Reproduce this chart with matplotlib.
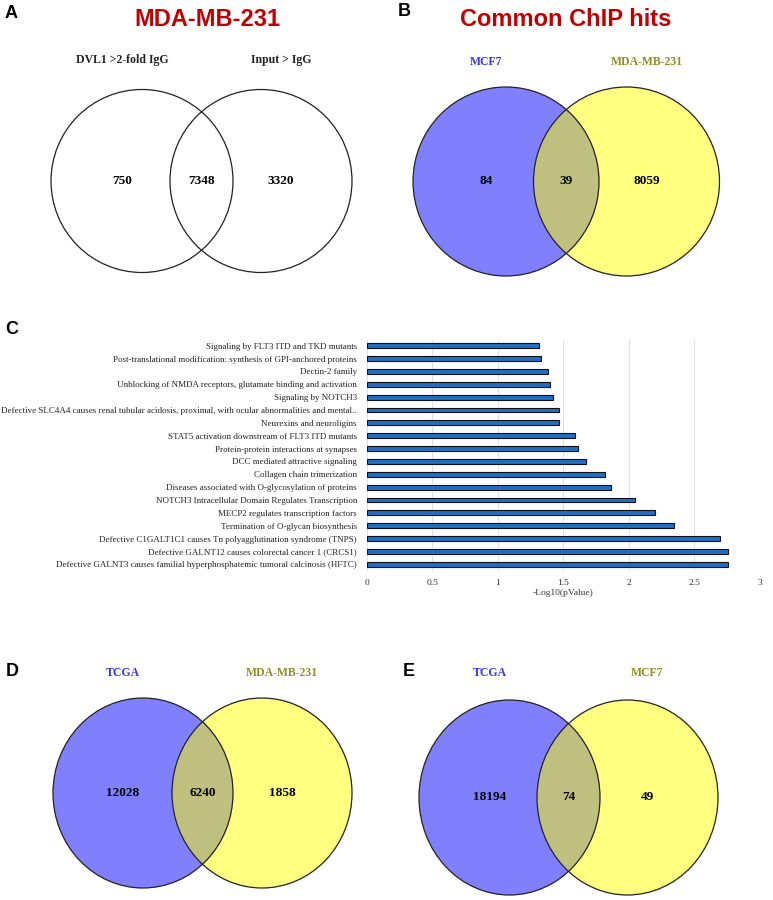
import matplotlib
matplotlib.use("Agg")
import matplotlib.pyplot as plt
from matplotlib.patches import Ellipse

# panel C data, listed top to bottom as in the figure
pathways = [
    "Signaling by FLT3 ITD and TKD mutants",
    "Post-translational modification: synthesis of GPI-anchored proteins",
    "Dectin-2 family",
    "Unblocking of NMDA receptors, glutamate binding and activation",
    "Signaling by NOTCH3",
    "Defective SLC4A4 causes renal tubular acidosis, proximal, with ocular abnormalities and mental..",
    "Neurexins and neuroligins",
    "STAT5 activation downstream of FLT3 ITD mutants",
    "Protein-protein interactions at synapses",
    "DCC mediated attractive signaling",
    "Collagen chain trimerization",
    "Diseases associated with O-glycosylation of proteins",
    "NOTCH3 Intracellular Domain Regulates Transcription",
    "MECP2 regulates transcription factors",
    "Termination of O-glycan biosynthesis",
    "Defective C1GALT1C1 causes Tn polyagglutination syndrome (TNPS)",
    "Defective GALNT12 causes colorectal cancer 1 (CRCS1)",
    "Defective GALNT3 causes familial hyperphosphatemic tumoral calcinosis (HFTC)",
]
neg_log_p = [1.315, 1.327, 1.383, 1.396, 1.419, 1.467, 1.470, 1.592, 1.612,
             1.673, 1.815, 1.861, 2.047, 2.202, 2.344, 2.693, 2.756, 2.756]
x_ticks = [0, 0.5, 1, 1.5, 2, 2.5, 3]

# venn counts: (left only, shared, right only)
venn_a = [750, 7348, 3320]
venn_b = [84, 39, 8059]
venn_d = [12028, 6240, 1858]
venn_e = [18194, 74, 49]
names_a = ["DVL1 >2-fold IgG", "Input > IgG"]
names_b = ["MCF7", "MDA-MB-231"]
names_d = ["TCGA", "MDA-MB-231"]
names_e = ["TCGA", "MCF7"]

W, H = 773, 900
fig = plt.figure(figsize=(W / 100, H / 100), dpi=100)
canvas = fig.add_axes([0, 0, 1, 1])
canvas.set_xlim(0, W)
canvas.set_ylim(H, 0)
canvas.axis("off")

SERIF = "Liberation Serif"
SANS = "Liberation Sans"
BLUE = "#8080ff"
YELLOW = "#ffff80"
MIX = "#bfbf80"
RED = "#c00000"


def venn(counts, names, cx_l, cx_r, cy, rx, ry, label_y, filled, name_colors):
    if filled:
        left = Ellipse((cx_l, cy), 2 * rx, 2 * ry, facecolor=BLUE, edgecolor="none")
        right = Ellipse((cx_r, cy), 2 * rx, 2 * ry, facecolor=YELLOW, edgecolor="none")
        canvas.add_patch(left)
        canvas.add_patch(right)
        both = Ellipse((cx_l, cy), 2 * rx, 2 * ry, facecolor=MIX, edgecolor="none")
        canvas.add_patch(both)
        both.set_clip_path(right)
    for cx in (cx_l, cx_r):
        canvas.add_patch(Ellipse((cx, cy), 2 * rx, 2 * ry, facecolor="none",
                                 edgecolor="#222222", lw=0.9))
    xs = [cx_l - 20, (cx_l + cx_r) / 2, cx_r + 20]
    for x, n in zip(xs, counts):
        canvas.text(x, cy, str(n), ha="center", va="center", fontsize=9.5,
                    fontweight="bold", family=SERIF, color="black")
    for x, nm, col in zip((xs[0], xs[2]), names, name_colors):
        canvas.text(x, label_y, nm, ha="center", va="center", fontsize=8.5,
                    fontweight="bold", family=SERIF, color=col)


venn(venn_a, names_a, 142, 261, 181, 91, 91.5, 60, False, ["#222222", "#222222"])
venn(venn_b, names_b, 506, 626.5, 181.5, 93, 94.5, 62, True, ["#3333ff", "#8f8f20"])
venn(venn_d, names_d, 143, 262, 793, 90, 95, 673, True, ["#3333ff", "#8f8f20"])
venn(venn_e, names_e, 509.5, 627.5, 797.5, 90.5, 97.5, 673, True, ["#3333ff", "#8f8f20"])

# titles and panel letters
canvas.text(207, 19, "MDA-MB-231", ha="center", va="center", fontsize=17,
            fontweight="heavy", family=SANS, color=RED)
canvas.text(566, 19, "Common ChIP hits", ha="center", va="center", fontsize=17,
            fontweight="heavy", family=SANS, color=RED)
for letter, x, y in [("A", 11.5, 13), ("B", 404.5, 12), ("C", 12, 329),
                     ("D", 12, 672), ("E", 409, 672)]:
    canvas.text(x, y, letter, ha="center", va="center", fontsize=13,
                fontweight="bold", family=SANS, color="black")

# panel C bar chart
ax = fig.add_axes([366.7 / W, 1 - 571 / H, 393.3 / W, 231 / H])
ypos = list(range(len(pathways) - 1, -1, -1))
ax.barh(ypos, neg_log_p, height=0.38, color="#1f6fc8", edgecolor="#111111",
        lw=0.8, zorder=3)
ax.set_xlim(0, 3)
ax.set_ylim(-0.52, 17.44)
ax.set_xticks(x_ticks)
ax.set_xticklabels([f"{t:g}" for t in x_ticks], family=SERIF, fontsize=6.8,
                   color="#333333")
ax.set_yticks(ypos)
ax.set_yticklabels(pathways, family=SERIF, fontsize=6.5, color="#222222")
ax.tick_params(length=0, pad=7)
ax.tick_params(axis="x", pad=6)
ax.xaxis.grid(True, color="#e0e0e0", lw=0.8, zorder=0)
for s in ax.spines.values():
    s.set_visible(False)
ax.set_xlabel("-Log10(pValue)", family=SERIF, fontsize=6.8, color="#333333",
              labelpad=1)

fig.savefig("out.png", dpi=100)
